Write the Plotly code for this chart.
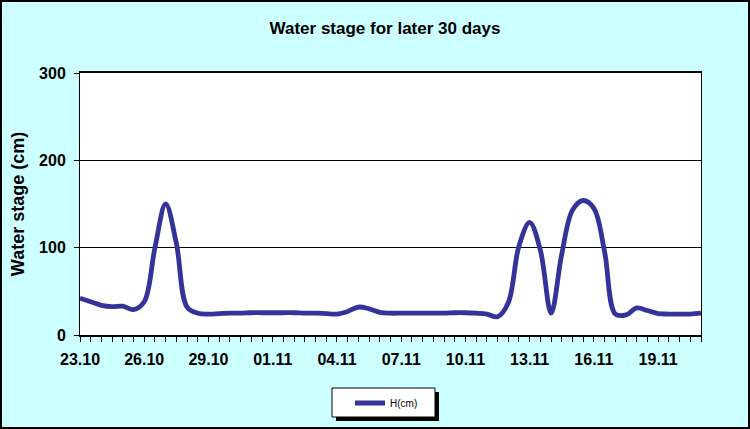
import plotly.graph_objects as go
import pandas as pd

# Half-day readings starting 23.10
start_date = "2011-10-23 00:00"
h_cm = [42, 38, 34, 32.5, 33, 29, 38, 100, 150, 105, 32, 25,
        24, 24.5, 25, 25, 25.5, 25.5, 25.5, 25.5, 25.5, 25, 25, 24.5,
        24, 27, 32, 30, 26, 25, 25, 25, 25, 25, 25, 25.5, 25.5, 25,
        24, 21, 37, 102, 129, 97, 25, 93, 143, 154, 145, 95, 24,
        23, 31, 28, 24.5, 24, 24, 24, 25]
x_dates = pd.date_range(start=start_date, periods=len(h_cm), freq="12h")
series_name = "H(cm)"
title_text = "Water stage for later 30 days"
y_title = "Water stage (cm)"
y_ticks = [0, 100, 200, 300]

W, H = 750, 429
L, R, T, B = 80, 49, 73, 94
pw, ph = W - L - R, H - T - B

fig = go.Figure()
fig.add_trace(go.Scatter(
    x=x_dates, y=h_cm, mode="lines", name=series_name,
    line=dict(color="#333399", width=4.8, shape="spline", smoothing=1.0),
))

font_b = "Liberation Sans"

def px_x(p):
    return (p - L) / pw

def px_y(p):
    return (H - B - p) / ph

fig.update_layout(
    width=W, height=H,
    margin=dict(l=L, r=R, t=T, b=B),
    paper_bgcolor="#CCFFFF",
    plot_bgcolor="white",
    title=dict(text="<b>" + title_text + "</b>", x=385 / W, xanchor="center",
               y=1 - 28 / H, yanchor="middle",
               font=dict(family=font_b, size=17, color="black")),
    showlegend=True,
    legend=dict(x=px_x(350), xanchor="left", y=px_y(403), yanchor="middle",
                bgcolor="rgba(0,0,0,0)", borderwidth=0,
                font=dict(family=font_b, size=10, color="black"),
                itemwidth=30),
    xaxis=dict(
        type="date",
        range=[x_dates[0], x_dates[-1]],
        tickformat="%d.%m", dtick=3 * 86400000, tick0=x_dates[0],
        ticks="outside", ticklen=5, tickcolor="black", tickwidth=1,
        minor=dict(dtick=43200000, ticks="outside", ticklen=5, tickcolor="black", showgrid=False),
        showline=True, linecolor="black", linewidth=2, mirror=True,
        showgrid=False, zeroline=False,
        tickfont=dict(family=font_b, size=16, color="black"),
        tickprefix="<b>", ticksuffix="</b>",
        ticklabelstandoff=4,
    ),
    yaxis=dict(
        range=[0, 300], tickvals=y_ticks,
        ticktext=["<b>%d</b>" % v for v in y_ticks],
        ticks="outside", ticklen=5, tickcolor="black",
        showline=True, linecolor="black", linewidth=1, mirror=True,
        showgrid=True, gridcolor="black", gridwidth=1, zeroline=False,
        tickfont=dict(family=font_b, size=16, color="black"),
        ticklabelstandoff=5,
        title=dict(text="<b>" + y_title + "</b>", standoff=9,
                   font=dict(family=font_b, size=18, color="black")),
    ),
    shapes=[
        dict(type="rect", xref="paper", yref="paper",
             x0=px_x(1), x1=px_x(W - 1), y0=px_y(H - 1), y1=px_y(1),
             line=dict(color="black", width=2), fillcolor="rgba(0,0,0,0)", layer="below"),
        dict(type="rect", xref="paper", yref="paper",
             x0=px_x(336), x1=px_x(439), y0=px_y(421), y1=px_y(392),
             line=dict(width=0), fillcolor="black", layer="above"),
        dict(type="rect", xref="paper", yref="paper",
             x0=px_x(332), x1=px_x(435), y0=px_y(417), y1=px_y(388),
             line=dict(width=1, color="black"), fillcolor="white", layer="above"),
    ],
)

fig.write_html("out.html", config={"displayModeBar": False},
               post_script="document.body.style.margin='0';")
